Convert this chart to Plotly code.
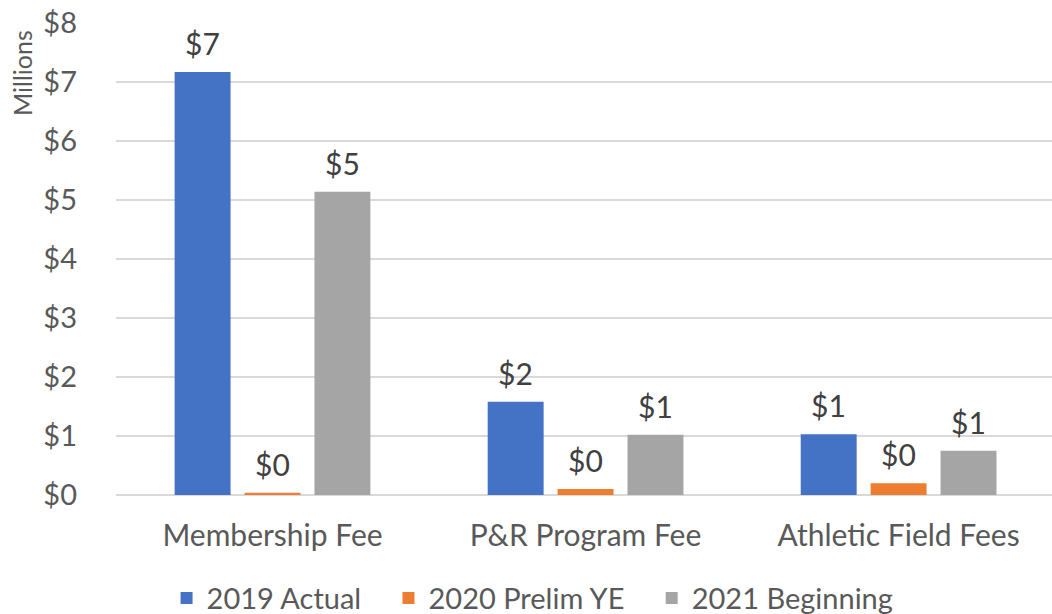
import plotly.graph_objects as go

categories = ["Membership Fee", "P&R Program Fee", "Athletic Field Fees"]
series_names = ["2019 Actual", "2020 Prelim YE", "2021 Beginning"]
actual_2019 = [7.17, 1.58, 1.03]
prelim_2020 = [0.04, 0.10, 0.20]
beginning_2021 = [5.14, 1.02, 0.75]
series_values = [actual_2019, prelim_2020, beginning_2021]
colors = ["#4472C4", "#ED7D31", "#A5A5A5"]

W, H = 1052, 614
ML, MR, MT, MB = 116, 0, 23, 119
BARGAP, BARGROUPGAP = 0.33, 0.2
XMAX = 2.49
FONT = "Lato"
TXT = "#595959"
PAD = "\u00a0" * 3

fig = go.Figure()
for name, vals, col in zip(series_names, series_values, colors):
    fig.add_trace(go.Bar(name=name + PAD, x=categories, y=vals,
                         marker=dict(color=col, line=dict(width=0))))

# data labels from the data, shifted by the group slot width
plot_w = W - ML - MR
plot_h = H - MT - MB
unit_px = plot_w / (XMAX + 0.5)
slot = unit_px * (1 - BARGAP) / len(series_names)
for i, vals in enumerate(series_values):
    for c, v in zip(categories, vals):
        fig.add_annotation(x=c, y=v, xref="x", yref="y", text="$" + f"{v:.0f}",
                           showarrow=False, yanchor="bottom", yshift=9,
                           xshift=(i - 1) * slot,
                           font=dict(family=FONT, size=30, color="#404040"))

fig.add_annotation(xref="paper", yref="paper", x=-(ML - 22) / plot_w, y=(H - MB - 73) / plot_h,
                   text="Millions", textangle=-90, showarrow=False, xanchor="center", yanchor="middle",
                   font=dict(family=FONT, size=25, color=TXT))

fig.update_layout(
    width=W, height=H,
    margin=dict(l=ML, r=MR, t=MT, b=MB, autoexpand=False),
    paper_bgcolor="white", plot_bgcolor="white",
    barmode="group", bargap=BARGAP, bargroupgap=BARGROUPGAP,
    font=dict(family=FONT, color=TXT),
    showlegend=True,
    legend=dict(orientation="h", xref="container", yref="container", x=0.5167, xanchor="center",
                y=0.026, yanchor="middle", font=dict(family=FONT, size=29, color=TXT),
                itemclick=False, traceorder="normal"),
    xaxis=dict(showgrid=False, showline=False, ticks="", automargin=False,
               tickfont=dict(family=FONT, size=30, color=TXT),
               ticklabelstandoff=20, range=[-0.5, XMAX]),
    yaxis=dict(range=[0, 8], dtick=1, tickprefix="$", showgrid=True, gridcolor="#D9D9D9", gridwidth=1.5,
               zeroline=True, zerolinecolor="#D9D9D9", zerolinewidth=1.5, showline=False, ticks="",
               automargin=False, ticklabeloverflow="allow",
               tickfont=dict(family=FONT, size=29, color=TXT), ticklabelstandoff=38),
)

fig.write_html("out.html", config={"displayModeBar": False},
               post_script="document.body.style.margin='0';")
